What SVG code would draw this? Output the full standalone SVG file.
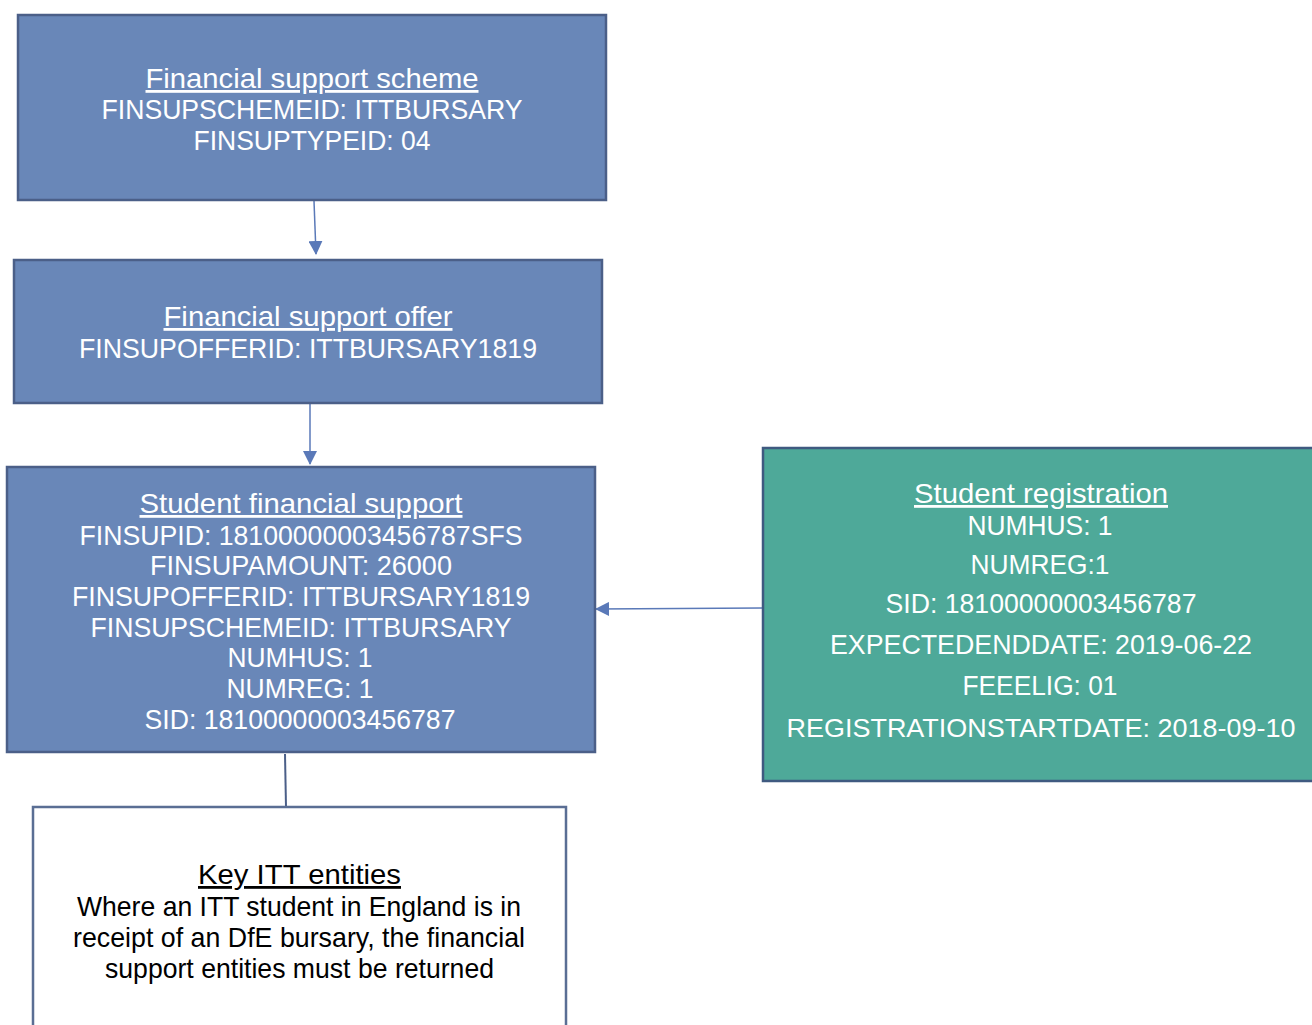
<svg xmlns="http://www.w3.org/2000/svg" width="1312" height="1025" viewBox="0 0 1312 1025">
<style>
.blue{fill:#6987b8;stroke:#4b5f88;stroke-width:2.5}
.green{fill:#4ea999;stroke:#3f5a80;stroke-width:2.5}
.white{fill:#ffffff;stroke:#5a6e94;stroke-width:2.5}
text{font-family:"Liberation Sans",Arial,sans-serif;font-size:28px;text-anchor:middle}
.w{fill:#ffffff}
.k{fill:#000000}
.u{text-decoration:underline}
.conn{stroke:#5a79b8;stroke-width:1.5;fill:none}
.plain{stroke:#4b5f88;stroke-width:2;fill:none}
</style>
<defs>
<marker id="arrL" markerWidth="14" markerHeight="14" refX="13" refY="7" orient="auto" markerUnits="userSpaceOnUse" viewBox="0 0 14 14">
<path d="M0,0 L14,7 L0,14 Z" fill="#5a79b8"/>
</marker>
</defs>
<g id="connectors">
<line class="conn" x1="314" y1="201" x2="316" y2="254" marker-end="url(#arrL)"/>
<line class="conn" x1="310" y1="404" x2="310" y2="464" marker-end="url(#arrL)"/>
<line class="conn" x1="762" y1="608" x2="596" y2="609" marker-end="url(#arrL)"/>
<line class="plain" x1="285" y1="754" x2="286" y2="807"/>
</g>
<g id="node-scheme">
<rect class="blue" x="18" y="15" width="588" height="185"/>
<text class="w u" x="312" y="88" textLength="333" lengthAdjust="spacingAndGlyphs">Financial support scheme</text>
<text class="w" x="312" y="119" textLength="421" lengthAdjust="spacingAndGlyphs">FINSUPSCHEMEID: ITTBURSARY</text>
<text class="w" x="312" y="150" textLength="237" lengthAdjust="spacingAndGlyphs">FINSUPTYPEID: 04</text>
</g>
<g id="node-offer">
<rect class="blue" x="14" y="260" width="588" height="143"/>
<text class="w u" x="308" y="326" textLength="289" lengthAdjust="spacingAndGlyphs">Financial support offer</text>
<text class="w" x="308" y="358" textLength="458" lengthAdjust="spacingAndGlyphs">FINSUPOFFERID: ITTBURSARY1819</text>
</g>
<g id="node-sfs">
<rect class="blue" x="7" y="467" width="588" height="285"/>
<text class="w u" x="301" y="513" textLength="323" lengthAdjust="spacingAndGlyphs">Student financial support</text>
<text class="w" x="301" y="545" textLength="443" lengthAdjust="spacingAndGlyphs">FINSUPID: 18100000003456787SFS</text>
<text class="w" x="301" y="575" textLength="302" lengthAdjust="spacingAndGlyphs">FINSUPAMOUNT: 26000</text>
<text class="w" x="301" y="606" textLength="458" lengthAdjust="spacingAndGlyphs">FINSUPOFFERID: ITTBURSARY1819</text>
<text class="w" x="301" y="637" textLength="421" lengthAdjust="spacingAndGlyphs">FINSUPSCHEMEID: ITTBURSARY</text>
<text class="w" x="300" y="667" textLength="145" lengthAdjust="spacingAndGlyphs">NUMHUS: 1</text>
<text class="w" x="300" y="698" textLength="147" lengthAdjust="spacingAndGlyphs">NUMREG: 1</text>
<text class="w" x="300" y="729" textLength="311" lengthAdjust="spacingAndGlyphs">SID: 18100000003456787</text>
</g>
<g id="node-registration">
<rect class="green" x="763" y="448" width="560" height="333"/>
<text class="w u" x="1041" y="503" textLength="254" lengthAdjust="spacingAndGlyphs">Student registration</text>
<text class="w" x="1040" y="535" textLength="145" lengthAdjust="spacingAndGlyphs">NUMHUS: 1</text>
<text class="w" x="1040" y="574" textLength="139" lengthAdjust="spacingAndGlyphs">NUMREG:1</text>
<text class="w" x="1041" y="613" textLength="311" lengthAdjust="spacingAndGlyphs">SID: 18100000003456787</text>
<text class="w" x="1041" y="654" textLength="422" lengthAdjust="spacingAndGlyphs">EXPECTEDENDDATE: 2019-06-22</text>
<text class="w" x="1040" y="695" textLength="155" lengthAdjust="spacingAndGlyphs">FEEELIG: 01</text>
<text class="w" x="1041" y="737" style="font-size:25.5px" textLength="509" lengthAdjust="spacingAndGlyphs">REGISTRATIONSTARTDATE: 2018-09-10</text>
</g>
<g id="node-key">
<rect class="white" x="33" y="807" width="533" height="240"/>
<text class="k u" x="299.5" y="884" textLength="203" lengthAdjust="spacingAndGlyphs">Key ITT entities</text>
<text class="k" x="299" y="916" textLength="444" lengthAdjust="spacingAndGlyphs">Where an ITT student in England is in</text>
<text class="k" x="299" y="947" textLength="452" lengthAdjust="spacingAndGlyphs">receipt of an DfE bursary, the financial</text>
<text class="k" x="299.5" y="978" textLength="389" lengthAdjust="spacingAndGlyphs">support entities must be returned</text>
</g>
</svg>
